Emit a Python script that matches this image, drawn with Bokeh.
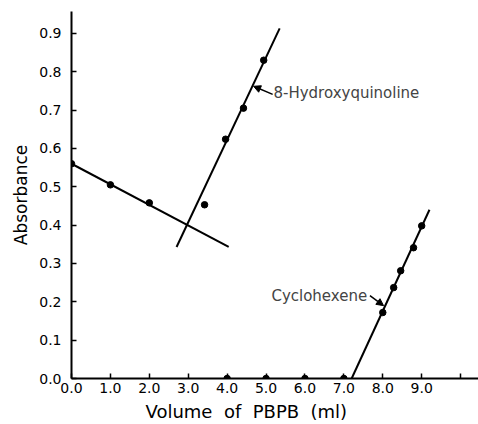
from bokeh.plotting import figure
from bokeh.models import FixedTicker, Arrow, NormalHead, Label, Title
from bokeh.embed import file_html
from bokeh.resources import INLINE

# Absorbance readings vs. volume of PBPB titrant (ml)
base_x = [0.0, 1.0, 2.0]
base_y = [0.56, 0.505, 0.458]

hq_x = [3.42, 3.96, 4.42, 4.94]
hq_y = [0.453, 0.624, 0.705, 0.83]

zero_x = [4.0, 5.0, 6.0, 7.0]
zero_y = [0.0, 0.0, 0.0, 0.0]

cy_x = [8.0, 8.28, 8.46, 8.79, 9.0]
cy_y = [0.172, 0.237, 0.281, 0.341, 0.398]

# end points of the fitted straight lines
base_fit_x = [0.0, 4.04]
base_fit_y = [0.56, 0.343]
hq_fit_x = [2.70, 5.35]
hq_fit_y = [0.343, 0.913]
cy_fit_x = [7.20, 9.20]
cy_fit_y = [0.0, 0.44]

x_ticks = [0, 1, 2, 3, 4, 5, 6, 7, 8, 9, 10]
x_tick_labels = ["0.0", "1.0", "2.0", "3.0", "4.0", "5.0", "6.0", "7.0", "8.0", "9.0", ""]
y_ticks = [0.0, 0.1, 0.2, 0.3, 0.4, 0.5, 0.6, 0.7, 0.8, 0.9]
y_tick_labels = ["0.0", "0.1", "0.2", "0.3", "0.4", "0.5", "0.6", "0.7", "0.8", "0.9"]

FONT = "DejaVu Sans"

p = figure(width=478, height=424, x_range=(0, 10.46), y_range=(0, 0.957),
           output_backend="svg", toolbar_location=None,
           min_border_left=71, min_border_right=0, min_border_top=11,
           min_border_bottom=45)
p.outline_line_color = None
p.grid.visible = False
p.background_fill_color = "white"

for ax in (p.xaxis[0], p.yaxis[0]):
    ax.axis_line_width = 2
    ax.axis_line_color = "black"
    ax.major_tick_in = 5
    ax.major_tick_out = 0
    ax.major_tick_line_width = 1.5
    ax.minor_tick_line_color = None
    ax.major_label_text_font = FONT
    ax.major_label_text_font_size = "14px"
    ax.major_label_text_color = "black"
    ax.axis_label_text_font = FONT
    ax.axis_label_text_font_size = "17px"
    ax.axis_label_text_font_style = "normal"
    ax.axis_label_text_color = "black"

p.xaxis.ticker = FixedTicker(ticks=x_ticks)
p.xaxis.major_label_overrides = {t: s for t, s in zip(x_ticks, x_tick_labels)}
p.yaxis.ticker = FixedTicker(ticks=y_ticks)
p.yaxis.major_label_overrides = {t: s for t, s in zip(y_ticks, y_tick_labels)}

p.yaxis.axis_label = "Absorbance"
p.xaxis.major_label_standoff = 4
p.yaxis.major_label_standoff = 10
p.yaxis.axis_label_standoff = 5

# x-axis title, placed a little left of the frame centre, with wide word gaps
NB = "\u00a0"
x_title = f"Volume{NB} of{NB} PBPB{NB} (ml)"
p.add_layout(Title(text=x_title, align="left", offset=74,
                   text_font=FONT, text_font_size="18px", text_font_style="normal",
                   text_color="black", standoff=6), "below")

# fitted lines
for fx, fy in ((base_fit_x, base_fit_y), (hq_fit_x, hq_fit_y), (cy_fit_x, cy_fit_y)):
    p.line(fx, fy, line_color="black", line_width=2)

# measured points
for px, py in ((base_x, base_y), (hq_x, hq_y), (zero_x, zero_y), (cy_x, cy_y)):
    p.scatter(px, py, size=6.5, color="black")

# annotations with pointing arrows
p.add_layout(Label(x=5.19, y=0.744, text="8-Hydroxyquinoline", text_font=FONT,
                   text_font_size="15px", text_baseline="middle", text_align="left"))
p.add_layout(Arrow(x_start=5.17, y_start=0.741, x_end=4.68, y_end=0.762,
                   line_width=1.5, end=NormalHead(size=7, fill_color="black", line_color="black")))

p.add_layout(Label(x=7.60, y=0.215, text="Cyclohexene", text_font=FONT,
                   text_font_size="15px", text_baseline="middle", text_align="right"))
p.add_layout(Arrow(x_start=7.67, y_start=0.216, x_end=8.02, y_end=0.19,
                   line_width=1.5, end=NormalHead(size=7, fill_color="black", line_color="black")))

open("out.html", "w").write(file_html(p, INLINE))
